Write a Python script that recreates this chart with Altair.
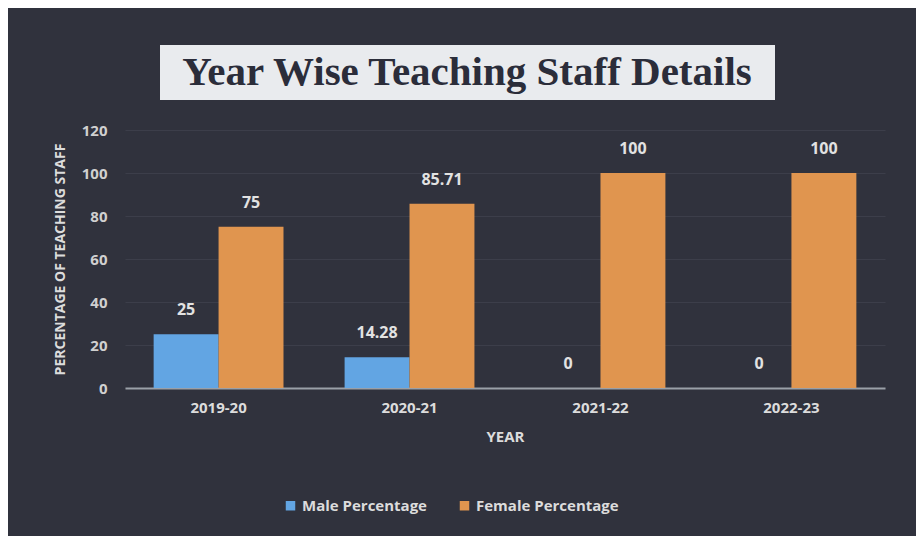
import altair as alt
import pandas as pd

years = ["2019-20", "2020-21", "2021-22", "2022-23"]
male = [25, 14.28, 0, 0]
female = [75, 85.71, 100, 100]
male_labels = ["25", "14.28", "0", "0"]
female_labels = ["75", "85.71", "100", "100"]
series = ["Male Percentage", "Female Percentage"]
colors = ["#62a5e3", "#e0954f"]

rows = []
for i, y in enumerate(years):
    rows.append({"year": y, "series": series[0], "value": male[i], "label": male_labels[i]})
    rows.append({"year": y, "series": series[1], "value": female[i], "label": female_labels[i]})
df = pd.DataFrame(rows)

BG = "#30323d"
FONT = "Open Sans"

x = alt.X("year:N", sort=years, title="YEAR",
          scale=alt.Scale(paddingInner=0.32, paddingOuter=0.15),
          axis=alt.Axis(labelAngle=0, labelFontSize=15, labelFontWeight="bold",
                        labelColor="#dcdcdc", titleColor="#dcdcdc", titleFontSize=15,
                        titleFontWeight="bold", labelPadding=12, titlePadding=14,
                        domainColor="#9aa0a8", domainWidth=2, ticks=False, grid=False))
y = alt.Y("value:Q", title="PERCENTAGE OF TEACHING STAFF",
          scale=alt.Scale(domain=[0, 120]),
          axis=alt.Axis(values=[0, 20, 40, 60, 80, 100, 120], labelFontSize=15,
                        labelFontWeight="bold", labelColor="#d0d0d0",
                        titleColor="#dcdcdc", titleFontSize=14, titleFontWeight="bold",
                        domain=False, ticks=False, labelPadding=18, titlePadding=14,
                        gridColor="#3c3e4a", gridWidth=1))
xo = alt.XOffset("series:N", sort=series)
color = alt.Color("series:N", sort=series,
                  scale=alt.Scale(domain=series, range=colors),
                  legend=alt.Legend(title=None, orient="none", direction="horizontal",
                                    legendX=158, legendY=368,
                                    symbolType="square", symbolSize=90,
                                    labelFontSize=15, labelFontWeight="bold",
                                    labelColor="#dcdcdc", columnPadding=30))

bars = alt.Chart(df).mark_bar().encode(x=x, xOffset=xo, y=y, color=color)
labels = alt.Chart(df).mark_text(dy=-24, fontSize=16, fontWeight="bold",
                                 color="#e2e2e2", font=FONT).encode(
    x=alt.X("year:N", sort=years), xOffset=xo, y="value:Q", text="label:N")

one = pd.DataFrame({"t": ["Year Wise Teaching Staff Details"]})
box = alt.Chart(one).mark_rect(color="#e9ebee").encode(
    x=alt.value(35), x2=alt.value(650), y=alt.value(-85), y2=alt.value(-30))
ttl = alt.Chart(one).mark_text(font="Liberation Serif", fontSize=41, fontWeight="bold",
                               color="#2b2d3a", baseline="middle", align="center").encode(
    x=alt.value(342), y=alt.value(-57), text="t:N")

chart = alt.layer(bars, labels, box, ttl).properties(
    width=760, height=258, background=BG,
    padding={"left": 45, "top": 37, "right": 31, "bottom": 22}
).configure(font=FONT).configure_view(stroke=None, strokeWidth=0).configure_axisX(grid=False)

chart.save("out.html", embed_options={"renderer": "svg", "actions": False})
